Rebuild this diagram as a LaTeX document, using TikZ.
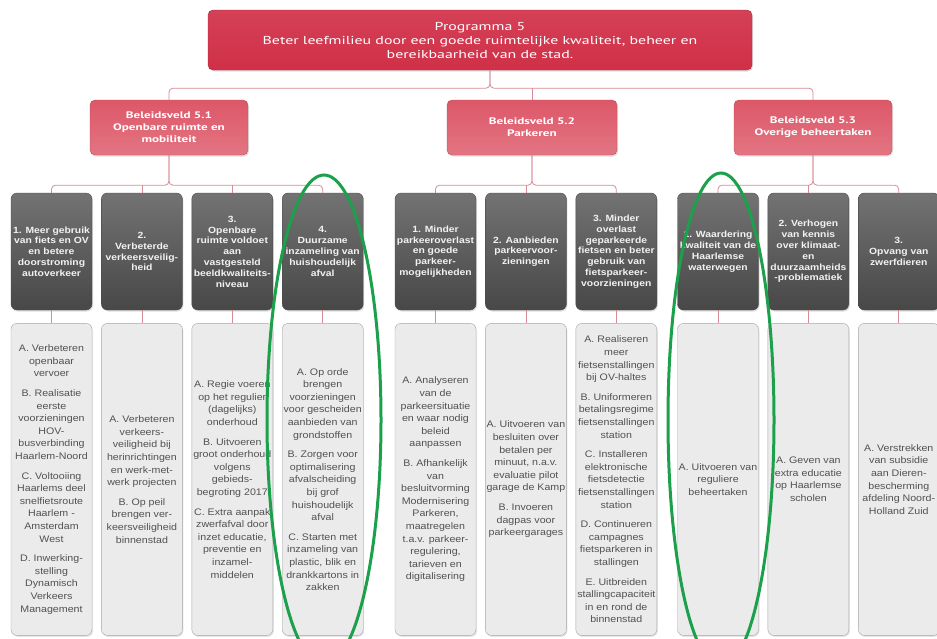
\documentclass[tikz,border=0pt]{standalone}
\usepackage{fontspec}
\setmainfont{Liberation Sans}
\newfontfamily\boxfont[FakeStretch=1.15]{Liberation Sans}
\newfontfamily\taakfont[FakeStretch=1.12]{Liberation Sans}
\newfontfamily\titlefont[FakeStretch=1.38]{PT Sans}
\usetikzlibrary{positioning, shadows}
\definecolor{progred}{RGB}{208,48,72}
\definecolor{veldred}{RGB}{222,92,108}
\definecolor{linkred}{RGB}{214,140,150}
\definecolor{ringgreen}{RGB}{28,160,76}
\definecolor{boxgray}{RGB}{235,235,235}

\begin{document}
\begin{tikzpicture}[x=1pt, y=-1pt,
	progbox/.style={draw=progred!85!black, rounded corners=5pt, top color=progred!92!white, bottom color=progred, text=white, align=center, font=\titlefont\fontsize{11.5}{14}\selectfont, minimum width=544pt, minimum height=60pt, drop shadow={opacity=0.25, shadow xshift=1pt, shadow yshift=-1.5pt}},
	veldbox/.style={draw=veldred!85!black, rounded corners=5pt, top color=veldred!90!progred, bottom color=veldred!85!white, text=white, align=center, font=\titlefont\bfseries\fontsize{9.5}{12}\selectfont, minimum height=55pt, drop shadow={opacity=0.25, shadow xshift=1pt, shadow yshift=-1.5pt}},
	doelbox/.style={draw=black!70, rounded corners=6pt, top color=black!55, bottom color=black!72, text=black!5, align=center, font=\boxfont\bfseries\fontsize{9}{10.8}\selectfont, minimum width=81pt, minimum height=117pt, inner sep=1pt, drop shadow={opacity=0.25, shadow xshift=1pt, shadow yshift=-1.5pt}},
	taakbox/.style={draw=black!35, rounded corners=6pt, fill=boxgray, text=black!68, align=center, font=\taakfont\fontsize{9.5}{12.6}\selectfont, minimum width=81pt, minimum height=312pt, inner sep=1pt, below=13pt of #1, drop shadow={opacity=0.2, shadow xshift=1pt, shadow yshift=-1.5pt}},
	link/.style={draw=linkred, line width=0.8pt, rounded corners=4pt},
	ring/.style={draw=ringgreen, line width=3pt}]
	\useasboundingbox (0,0) rectangle (937,638);
	\fill[white] (0,0) rectangle (937,638);
	\clip (0,0) rectangle (937,638);

	\node[progbox] (prog) at (480,40) {Programma 5\\Beter leefmilieu door een goede ruimtelijke kwaliteit, beheer en\\bereikbaarheid van de stad.};
	\node[veldbox, minimum width=158pt] (v51) at (169,127.5) {Beleidsveld 5.1\\Openbare ruimte en\\mobiliteit};
	\node[veldbox, minimum width=170pt] (v52) at (532,127.5) {Beleidsveld 5.2\\Parkeren};
	\node[veldbox, minimum width=158pt] (v53) at (813,127.5) {Beleidsveld 5.3\\Overige beheertaken};

	\node[doelbox] (o1) at (51.5,251.5) {1. Meer gebruik\\van fiets en OV\\en betere\\doorstroming\\autoverkeer};
	\node[doelbox, right=9pt of o1] (o2) {2.\\Verbeterde\\verkeersveilig-\\heid};
	\node[doelbox, right=9pt of o2] (o3) {3.\\Openbare\\ruimte voldoet\\aan\\vastgesteld\\beeldkwaliteits-\\niveau};
	\node[doelbox, right=9pt of o3] (o4) {4.\\Duurzame\\inzameling van\\huishoudelijk\\afval};
	\node[doelbox] (o5) at (435.5,251.5) {1. Minder\\parkeeroverlast\\en goede\\parkeer-\\mogelijkheden};
	\node[doelbox, right=9pt of o5] (o6) {2. Aanbieden\\parkeervoor-\\zieningen};
	\node[doelbox, right=9pt of o6] (o7) {3. Minder\\overlast\\geparkeerde\\fietsen en beter\\gebruik van\\fietsparkeer-\\voorzieningen};
	\node[doelbox] (o8) at (718,251.5) {1. Waardering\\kwaliteit van de\\Haarlemse\\waterwegen};
	\node[doelbox, right=9pt of o8] (o9) {2. Verhogen\\van kennis\\over klimaat-\\en\\duurzaamheids\\-problematiek};
	\node[doelbox, right=9pt of o9] (o10) {3.\\Opvang van\\zwerfdieren};

	\node[taakbox=o1] (m1) {A. Verbeteren\\openbaar\\vervoer\\[7pt]B. Realisatie\\eerste\\voorzieningen\\HOV-\\busverbinding\\Haarlem-Noord\\[7pt]C. Voltooiing\\Haarlems deel\\snelfietsroute\\Haarlem -\\Amsterdam\\West\\[7pt]D. Inwerking-\\stelling\\Dynamisch\\Verkeers\\Management};
	\node[taakbox=o2] (m2) {A. Verbeteren\\verkeers-\\veiligheid bij\\herinrichtingen\\en werk-met-\\werk projecten\\[7pt]B. Op peil\\brengen ver-\\keersveiligheid\\binnenstad};
	\node[taakbox=o3] (m3) {A. Regie voeren\\op het regulier\\(dagelijks)\\onderhoud\\[7pt]B. Uitvoeren\\groot onderhoud\\volgens\\gebieds-\\begroting 2017\\[7pt]C. Extra aanpak\\zwerfafval door\\inzet educatie,\\preventie en\\inzamel-\\middelen};
	\node[taakbox=o4] (m4) {A. Op orde\\brengen\\voorzieningen\\voor gescheiden\\aanbieden van\\grondstoffen\\[7pt]B. Zorgen voor\\optimalisering\\afvalscheiding\\bij grof\\huishoudelijk\\afval\\[7pt]C. Starten met\\inzameling van\\plastic, blik en\\drankkartons in\\zakken};
	\node[taakbox=o5] (m5) {A. Analyseren\\van de\\parkeersituatie\\en waar nodig\\beleid\\aanpassen\\[7pt]B. Afhankelijk\\van\\besluitvorming\\Modernisering\\Parkeren,\\maatregelen\\t.a.v. parkeer-\\regulering,\\tarieven en\\digitalisering};
	\node[taakbox=o6] (m6) {A. Uitvoeren van\\besluiten over\\betalen per\\minuut, n.a.v.\\evaluatie pilot\\garage de Kamp\\[7pt]B. Invoeren\\dagpas voor\\parkeergarages};
	\node[taakbox=o7] (m7) {A. Realiseren\\meer\\fietsenstallingen\\bij OV-haltes\\[7pt]B. Uniformeren\\betalingsregime\\fietsenstallingen\\station\\[7pt]C. Installeren\\elektronische\\fietsdetectie\\fietsenstallingen\\station\\[7pt]D. Continueren\\campagnes\\fietsparkeren in\\stallingen\\[7pt]E. Uitbreiden\\stallingcapaciteit\\in en rond de\\binnenstad};
	\node[taakbox=o8] (m8) {A. Uitvoeren van\\reguliere\\beheertaken};
	\node[taakbox=o9] (m9) {A. Geven van\\extra educatie\\op Haarlemse\\scholen};
	\node[taakbox=o10] (m10) {A. Verstrekken\\van subsidie\\aan Dieren-\\bescherming\\afdeling Noord-\\Holland Zuid};

	\draw[link] ([xshift=10pt]prog.south) -- ++(0,18) -| (v51.north);
	\draw[link] ([xshift=10pt]prog.south) -- ++(0,18) -| (v53.north);
	\draw[link] (v52.north) -- ++(0,-12);
	\draw[link] (v51.south) -- ++(0,30) -| (o1.north);
	\draw[link] (v51.south) -- ++(0,30) -| (o4.north);
	\draw[link] (o2.north) -- ++(0,-8);
	\draw[link] (o3.north) -- ++(0,-8);
	\draw[link] (v52.south) -- ++(0,30) -| (o5.north);
	\draw[link] (v52.south) -- ++(0,30) -| (o7.north);
	\draw[link] (o6.north) -- ++(0,-8);
	\draw[link] (v53.south) -- ++(0,30) -| (o8.north);
	\draw[link] (v53.south) -- ++(0,30) -| (o10.north);
	\draw[link] (o9.north) -- ++(0,-8);
	\foreach \i in {1,...,10}
		\draw[link] (o\i) -- (m\i);

	\draw[ring] (324,420) ellipse [x radius=57pt, y radius=245pt];
	\draw[ring] (721,420) ellipse [x radius=53pt, y radius=247pt];
\end{tikzpicture}
\end{document}
